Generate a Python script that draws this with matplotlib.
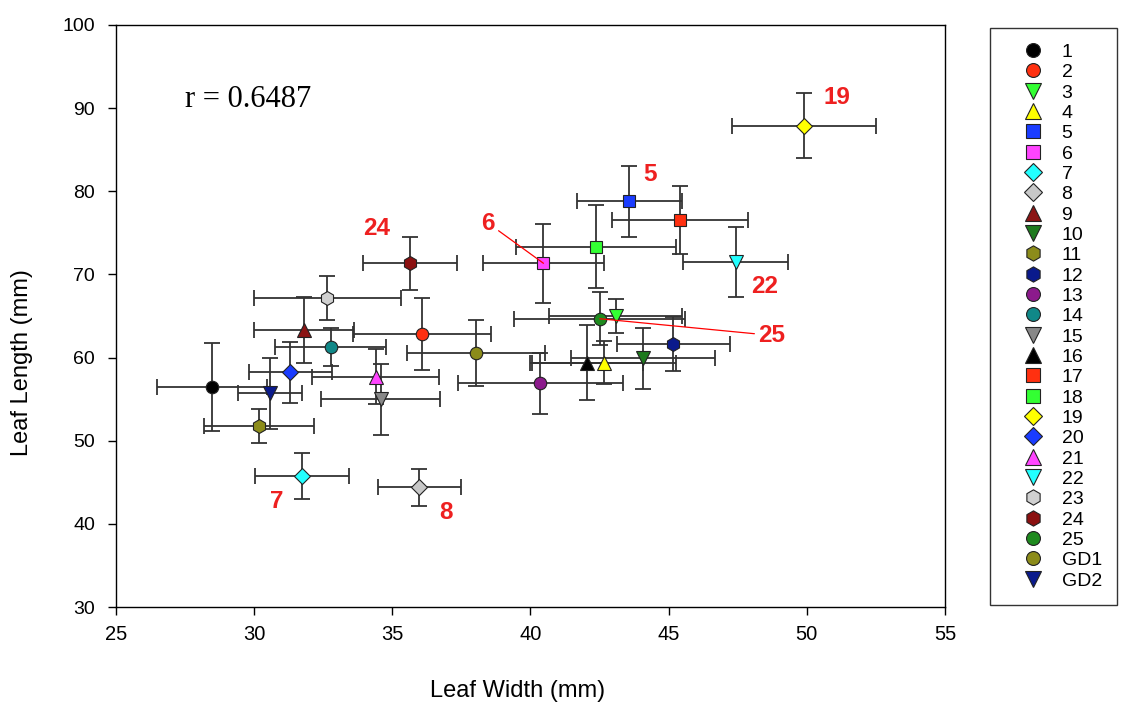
import matplotlib.pyplot as plt
from matplotlib.lines import Line2D

# leaf width / length means with their error bars
labels = ['1', '2', '3', '4', '5', '6', '7', '8', '9', '10', '11', '12', '13',
          '14', '15', '16', '17', '18', '19', '20', '21', '22', '23', '24',
          '25', 'GD1', 'GD2']
width = [28.47, 36.07, 43.08, 42.66, 43.57, 40.47, 31.72, 35.97, 31.80, 44.08,
         30.18, 45.17, 40.36, 32.77, 34.58, 42.04, 45.41, 42.36, 49.90, 31.30,
         34.40, 47.43, 32.65, 35.64, 42.51, 38.04, 30.57]
length = [56.46, 62.83, 65.00, 59.38, 78.79, 71.34, 45.75, 44.39, 63.31, 59.91,
          51.77, 61.63, 56.90, 61.30, 54.98, 59.38, 76.55, 73.33, 87.89, 58.23,
          57.70, 71.53, 67.13, 71.34, 64.67, 60.51, 55.70]
width_err = [2.0, 2.5, 2.4, 2.6, 1.9, 2.2, 1.7, 1.5, 1.8, 2.6, 2.0, 2.05, 3.0,
             2.0, 2.15, 2.05, 2.45, 2.9, 2.6, 1.5, 2.3, 1.9, 2.65, 1.7, 3.1,
             2.5, 1.15]
length_err = [5.25, 4.35, 2.0, 2.6, 4.25, 4.75, 2.8, 2.2, 4.0, 3.7, 2.1, 3.3,
              3.65, 2.3, 4.3, 4.5, 4.05, 5.0, 3.9, 3.65, 3.3, 4.2, 2.65, 3.2,
              3.2, 3.95, 4.25]

markers = ['o', 'o', 'v', '^', 's', 's', 'D', 'D', '^', 'v', 'h', 'h', 'o',
           'o', 'v', '^', 's', 's', 'D', 'D', '^', 'v', 'h', 'h', 'o', 'o', 'v']
colors = ['#000000', '#ff3010', '#33ff33', '#ffff00', '#1a3cff', '#ff44ff',
          '#22ffff', '#c8c8c8', '#8b1414', '#1e7a1e', '#8c8c1a', '#0a1a8c',
          '#8c1a8c', '#108888', '#888888', '#000000', '#ff3010', '#33ff33',
          '#ffff00', '#1a3cff', '#ff44ff', '#22ffff', '#d0d0d0', '#8b1010',
          '#1e8a1e', '#8c8c1a', '#0a1a8c']

# red callouts: point label, offset of the text from the point (points)
callouts = {'19': (24, 20), '5': (15, 19), '22': (21, -18), '7': (-18, -18),
            '8': (19, -18), '6': (-40, 29), '24': (-24, 25), '25': (124, -12)}
leader_lines = ['6', '25']

plt.rcParams['font.family'] = ['Liberation Sans', 'DejaVu Sans']

fig = plt.figure(figsize=(11.22, 7.02), dpi=100)
ax = fig.add_axes([0.1034, 0.1353, 0.7388, 0.8291])

msize = {'o': 9, 'h': 10, 's': 9, 'D': 8, '^': 10, 'v': 10}
handles = []
for i, lab in enumerate(labels):
    ax.errorbar(width[i], length[i], xerr=width_err[i], yerr=length_err[i],
                fmt='none', ecolor='#333333', elinewidth=1.3, capsize=6,
                capthick=1.3, zorder=2)
    ax.plot(width[i], length[i], marker=markers[i], color=colors[i],
            markeredgecolor='#222222', markeredgewidth=0.8,
            markersize=msize[markers[i]], linestyle='none', zorder=3)
    handles.append(Line2D([], [], marker=markers[i], color=colors[i],
                          markeredgecolor='#222222', markeredgewidth=0.8,
                          markersize=msize[markers[i]] + 1, linestyle='none',
                          label=lab))

for lab, (dx, dy) in callouts.items():
    i = labels.index(lab)
    arrow = None
    if lab in leader_lines:
        arrow = dict(arrowstyle='-', color='red', lw=0.9, shrinkA=1, shrinkB=0)
    ax.annotate(lab, (width[i], length[i]), xytext=(dx, dy),
                textcoords='offset points', ha='center', va='center',
                color='#ee2020', fontsize=17.5, fontweight='bold',
                arrowprops=arrow, zorder=4)

ax.text(27.5, 91, 'r = 0.6487', family='Liberation Serif', fontsize=22,
        va='center', ha='left')

ax.set_xlim(25, 55)
ax.set_ylim(30, 100)
ax.set_xticks(range(25, 56, 5))
ax.set_yticks(range(30, 101, 10))
ax.tick_params(direction='out', length=6, width=1)
ax.tick_params(axis='x', labelsize=14.5, pad=7)
ax.tick_params(axis='y', labelsize=14, pad=9)
ax.set_xlabel('Leaf Width (mm)', fontsize=17)
ax.set_ylabel('Leaf Length (mm)', fontsize=17)
ax.xaxis.set_label_coords(0.484, -0.126)
ax.yaxis.set_label_coords(-0.1, 0.42)
for s in ax.spines.values():
    s.set_linewidth(1)

leg = fig.legend(handles=handles, loc='upper left',
                 bbox_to_anchor=(0.882, 0.96), borderaxespad=0, fontsize=14,
                 labelspacing=0.14, borderpad=0.78, handlelength=2.86,
                 handletextpad=0.06, fancybox=False, frameon=True)
leg.get_frame().set_edgecolor('black')
leg.get_frame().set_linewidth(1)

fig.savefig('out.png', dpi=100)
